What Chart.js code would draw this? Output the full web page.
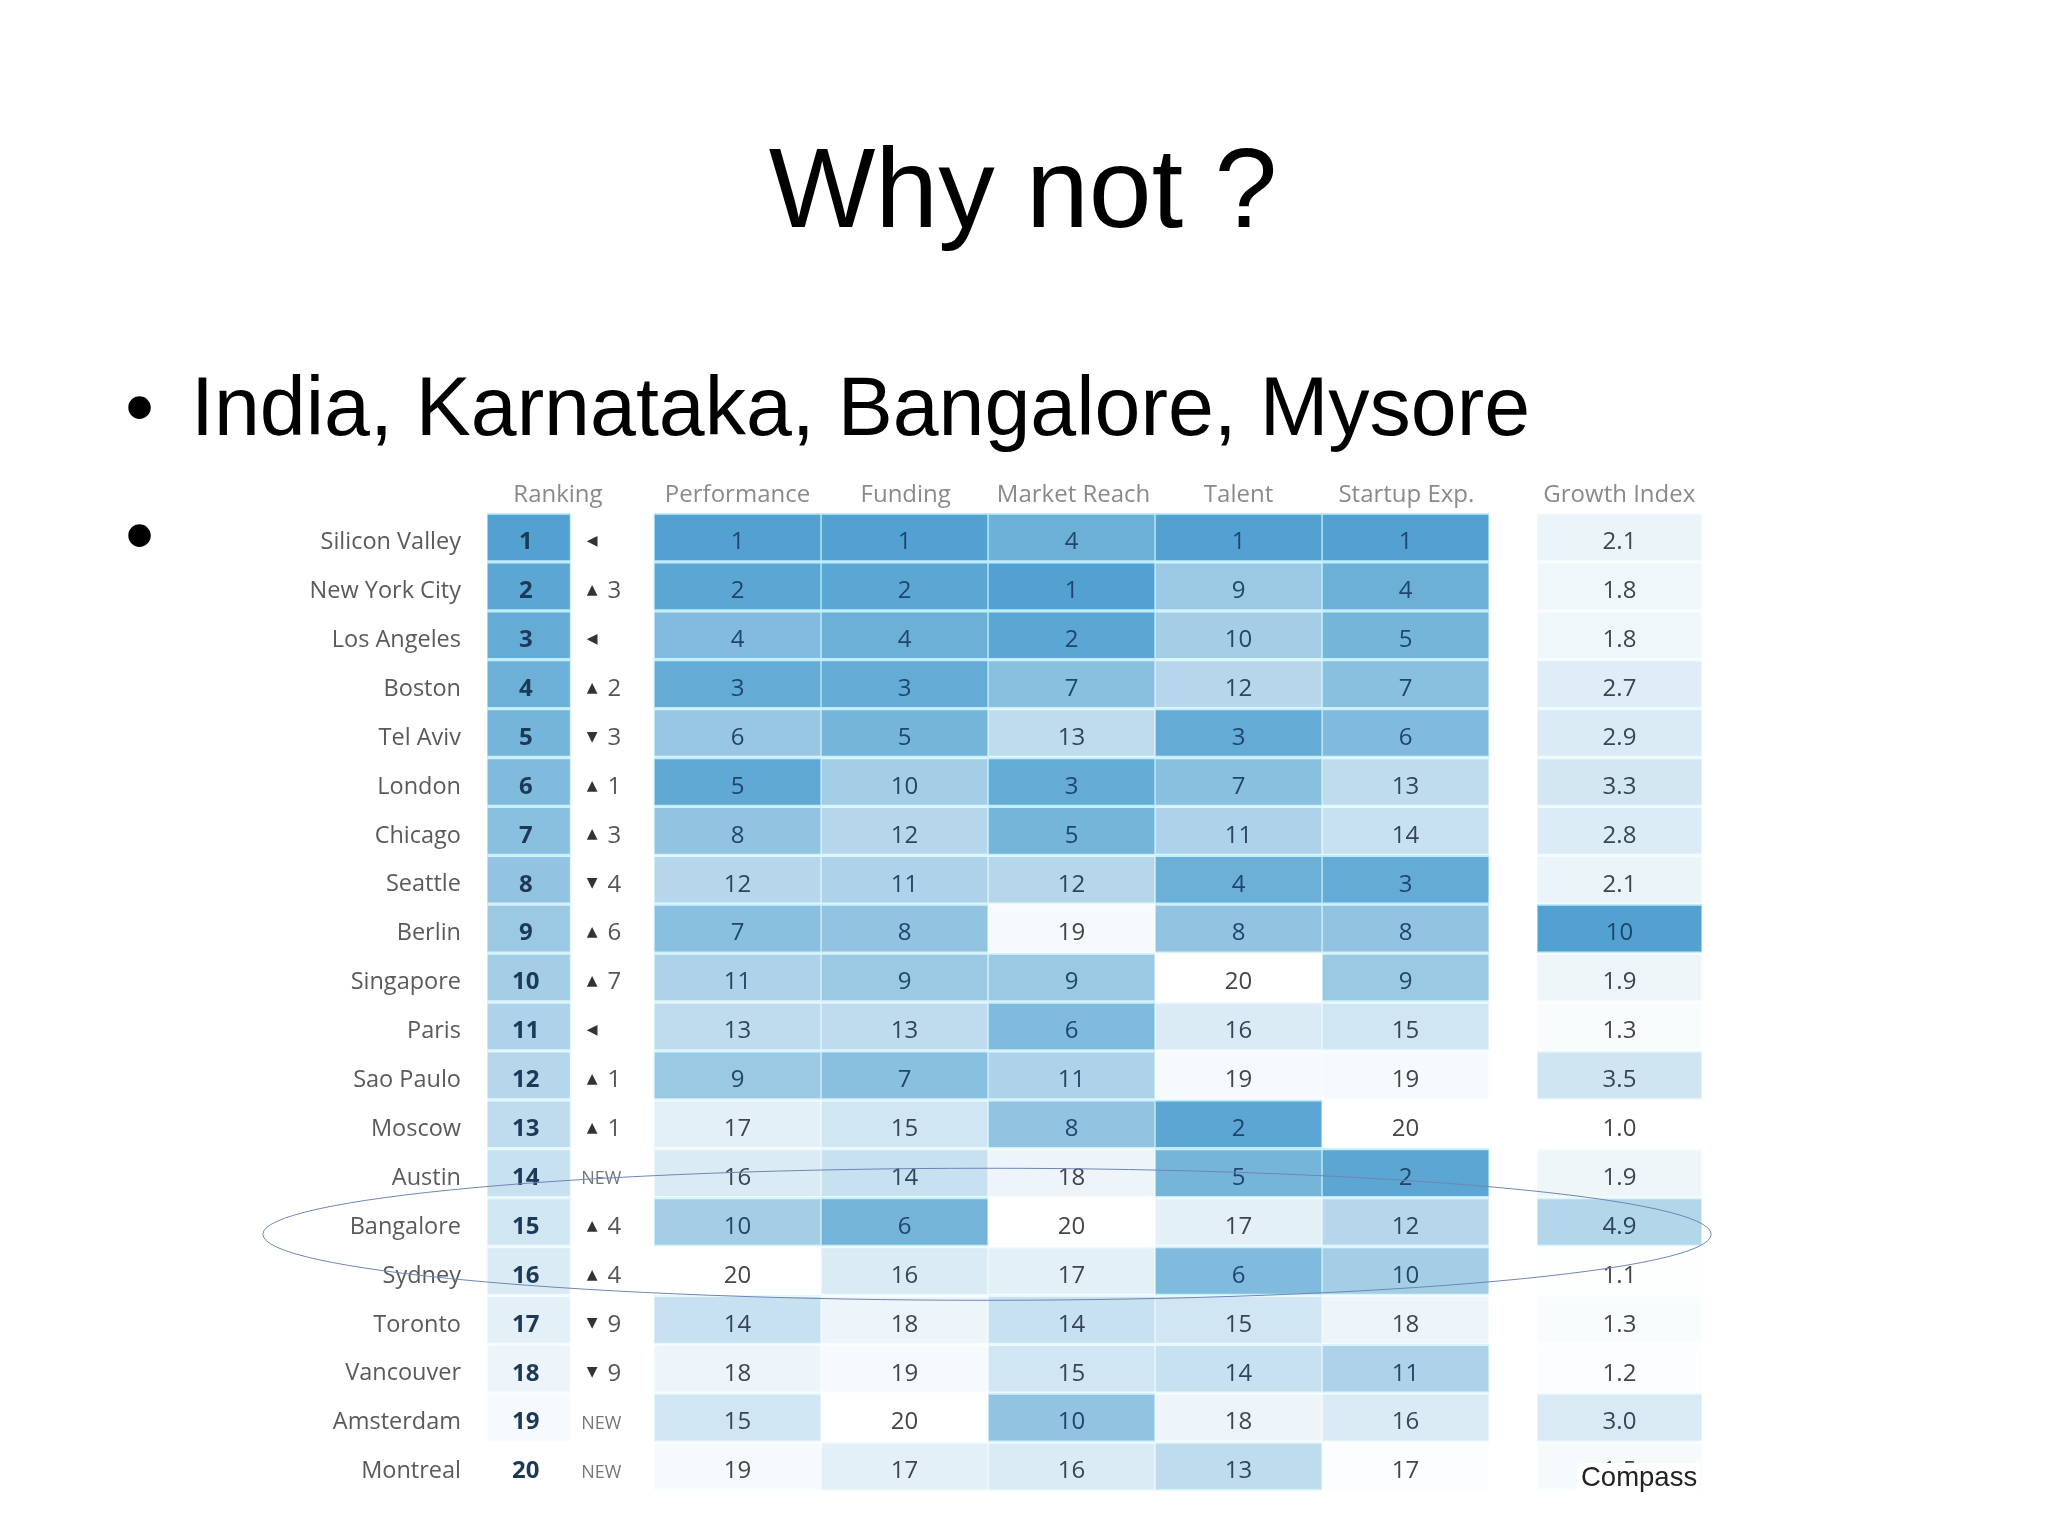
<!DOCTYPE html>
<html>
<head>
<meta charset="utf-8">
<title>Why not ?</title>
<script src="https://cdn.jsdelivr.net/npm/chart.js@4/dist/chart.umd.min.js"></script>
<style>
    html, body { margin: 0; padding: 0; background: #fff; }
    body { position: relative; width: 2048px; height: 1535px; overflow: hidden; font-family: "Liberation Sans", sans-serif; color: #000; }
    canvas { position: absolute; left: 0; top: 0; }
    .slide-text { position: absolute; white-space: nowrap; line-height: 1; }
    #title { left: 0; width: 2046px; top: 132px; text-align: center; font-size: 113px; }
    .bullet-mark { left: 125px; font-size: 83px; }
    #line1 { left: 191px; top: 365px; font-size: 82.5px; }
    #compass { left: 1577px; top: 1463px; padding: 0 3px 2px 4px; font-size: 27.5px; background: #fff; color: #222; }
</style>
</head>
<body>
<canvas id="chart" width="2048" height="1535"></canvas>
<div class="slide-text" id="title">Why not ?</div>
<div class="slide-text bullet-mark" style="top:365px">•</div>
<div class="slide-text bullet-mark" style="top:493px">•</div>
<div class="slide-text" id="line1">India, Karnataka, Bangalore, Mysore</div>
<div class="slide-text" id="compass">Compass</div>

<script>
const cities = ["Silicon Valley", "New York City", "Los Angeles", "Boston", "Tel Aviv", "London", "Chicago", "Seattle", "Berlin", "Singapore",
    "Paris", "Sao Paulo", "Moscow", "Austin", "Bangalore", "Sydney", "Toronto", "Vancouver", "Amsterdam", "Montreal"];

const ranking     = [1, 2, 3, 4, 5, 6, 7, 8, 9, 10, 11, 12, 13, 14, 15, 16, 17, 18, 19, 20];
const rankChange  = [0, 3, 0, 2, -3, 1, 3, -4, 6, 7, 0, 1, 1, "NEW", 4, 4, -9, -9, "NEW", "NEW"];
const performance_ = [1, 2, 4, 3, 6, 5, 8, 12, 7, 11, 13, 9, 17, 16, 10, 20, 14, 18, 15, 19];
const funding     = [1, 2, 4, 3, 5, 10, 12, 11, 8, 9, 13, 7, 15, 14, 6, 16, 18, 19, 20, 17];
const marketReach = [4, 1, 2, 7, 13, 3, 5, 12, 19, 9, 6, 11, 8, 18, 20, 17, 14, 15, 10, 16];
const talent      = [1, 9, 10, 12, 3, 7, 11, 4, 8, 20, 16, 19, 2, 5, 17, 6, 15, 14, 18, 13];
const startupExp  = [1, 4, 5, 7, 6, 13, 14, 3, 8, 9, 15, 19, 20, 2, 12, 10, 18, 11, 16, 17];
const growthIndex = [2.1, 1.8, 1.8, 2.7, 2.9, 3.3, 2.8, 2.1, 10, 1.9, 1.3, 3.5, 1.0, 1.9, 4.9, 1.1, 1.3, 1.2, 3.0, 1.5];

const headers = ["Ranking", "Performance", "Funding", "Market Reach", "Talent", "Startup Exp.", "Growth Index"];
const headerTicks = [0.425, 1.5, 2.507, 3.512, 4.5, 5.505, 6.78];

const HIGH = [82, 161, 208];   // darkest cell
const HALO = [190, 236, 250];  // pale seam between dark cells

function mix(a, b, t) {
    return a.map((v, i) => Math.round(v + (b[i] - v) * t));
}
function rgb(c) {
    return `rgb(${c[0]},${c[1]},${c[2]})`;
}
const rankTone = v => (20 - v) / 19;
const indexTone = v => (v - 1) / 9;

// ── Columns ───────────────────────────────────────────────────────────────────
// shade is the underlying score, so a few cells sit off their rank (row: tone)
const columns = [
    { from: 0,     to: 0.5,   values: ranking,      tone: rankTone, bold: true },
    { from: 0.5,   to: 1,     values: rankChange,   change: true },
    { from: 1,     to: 2,     values: performance_, tone: rankTone, off: { 2: 0.72, 4: 0.6, 5: 0.92 } },
    { from: 2,     to: 3,     values: funding,      tone: rankTone, off: { 14: 0.8 } },
    { from: 3,     to: 4,     values: marketReach,  tone: rankTone, off: { 18: 0.63 } },
    { from: 4,     to: 5,     values: talent,       tone: rankTone },
    { from: 5,     to: 6,     values: startupExp,   tone: rankTone, off: { 19: 0.02 } },
    { from: 6.287, to: 7.275, values: growthIndex,  tone: indexTone, decimals: true }
];

function cellTone(col, i) {
    if (col.off && col.off[i] !== undefined) return col.off[i];
    return col.tone(col.values[i]);
}

const datasets = columns.map(col => ({
    data: cities.map(() => [col.from, col.to]),
    column: col,
    backgroundColor: cities.map((c, i) => col.change ? "rgba(0,0,0,0)" : rgb(mix([255, 255, 255], HIGH, cellTone(col, i)))),
    borderColor: cities.map((c, i) => col.change ? "rgba(0,0,0,0)" : rgb(mix([255, 255, 255], HALO, Math.min(1, cellTone(col, i) * 1.15)))),
    borderWidth: { top: 2, bottom: 2, left: 1, right: 1 },
    borderSkipped: false,
    barPercentage: 1,
    categoryPercentage: 1,
    grouped: false
}));

// ── Cell labels ───────────────────────────────────────────────────────────────
const cellLabels = {
    id: "cellLabels",
    afterDatasetsDraw(chart) {
        const ctx = chart.ctx;
        ctx.save();
        ctx.textBaseline = "middle";
        chart.data.datasets.forEach((ds, d) => {
            const col = ds.column;
            chart.getDatasetMeta(d).data.forEach((el, i) => {
                const p = el.getCenterPoint();
                const v = col.values[i];
                if (col.change) {
                    drawChange(ctx, p, v);
                    return;
                }
                const t = cellTone(col, i);
                ctx.textAlign = "center";
                ctx.font = (col.bold ? "700 " : "400 ") + "24px 'Open Sans'";
                ctx.fillStyle = col.bold ? "#1c3a58" : rgb(mix([70, 70, 70], [30, 70, 110], Math.min(1, t * 1.5)));
                ctx.fillText(col.decimals && v !== 10 ? v.toFixed(1) : String(v), col.bold ? p.x - 3 : p.x, p.y + 5);
            });
        });
        drawRing(chart);
        ctx.restore();
    }
};

function drawChange(ctx, p, v) {
    ctx.fillStyle = "#555";
    if (v === "NEW") {
        ctx.textAlign = "center";
        ctx.font = "400 18px 'Open Sans'";
        ctx.fillStyle = "#777";
        ctx.fillText(v, p.x - 11, p.y + 6);
        return;
    }
    // small arrow glyph, then the size of the move
    ctx.textAlign = "center";
    ctx.font = "400 14px 'DejaVu Sans'";
    ctx.fillStyle = "#333";
    ctx.fillText(v > 0 ? "▲" : v < 0 ? "▼" : "◀", p.x - 20, p.y + 4);
    if (v !== 0) {
        ctx.font = "400 24px 'Open Sans'";
        ctx.fillStyle = "#555";
        ctx.fillText(String(Math.abs(v)), p.x + 2, p.y + 5);
    }
}

// hand drawn ring around the Bangalore row
function drawRing(chart) {
    const { x, y } = chart.scales;
    const cx = x.getPixelForValue(2.994);
    const cy = y.getPixelForValue(14.25);
    const rx = x.getPixelForValue(7.33) - cx;
    const ry = y.getPixelForValue(15.6) - cy;
    const ctx = chart.ctx;
    ctx.beginPath();
    ctx.ellipse(cx, cy, rx, ry, 0, 0, Math.PI * 2);
    ctx.strokeStyle = "#6f86b5";
    ctx.lineWidth = 1;
    ctx.stroke();
}

new Chart(document.getElementById("chart"), {
    type: "bar",
    data: { labels: cities, datasets },
    plugins: [cellLabels],
    options: {
        indexAxis: "y",
        responsive: false,
        animation: false,
        devicePixelRatio: 1,
        layout: { padding: { left: 0, top: 0, right: 346, bottom: 44 } },
        plugins: { legend: { display: false }, tooltip: { enabled: false } },
        scales: {
            x: {
                type: "linear",
                position: "top",
                min: 0,
                max: 7.275,
                grid: { display: false, drawTicks: false },
                border: { display: false },
                afterFit(scale) { scale.height = 513; },
                afterBuildTicks(scale) { scale.ticks = headerTicks.map(value => ({ value })); },
                ticks: {
                    autoSkip: false,
                    maxRotation: 0,
                    padding: 3,
                    color: "#8a8a8a",
                    font: { family: "'Open Sans'", size: 24 },
                    callback: value => headers[headerTicks.indexOf(value)]
                }
            },
            y: {
                type: "category",
                grid: { display: false, drawTicks: false },
                border: { display: false },
                afterFit(scale) { scale.width = 487; },
                ticks: {
                    padding: 26,
                    labelOffset: 5,
                    color: "#5a5a5a",
                    font: { family: "'Open Sans'", size: 23.5 }
                }
            }
        }
    }
});
</script>
</body>
</html>
